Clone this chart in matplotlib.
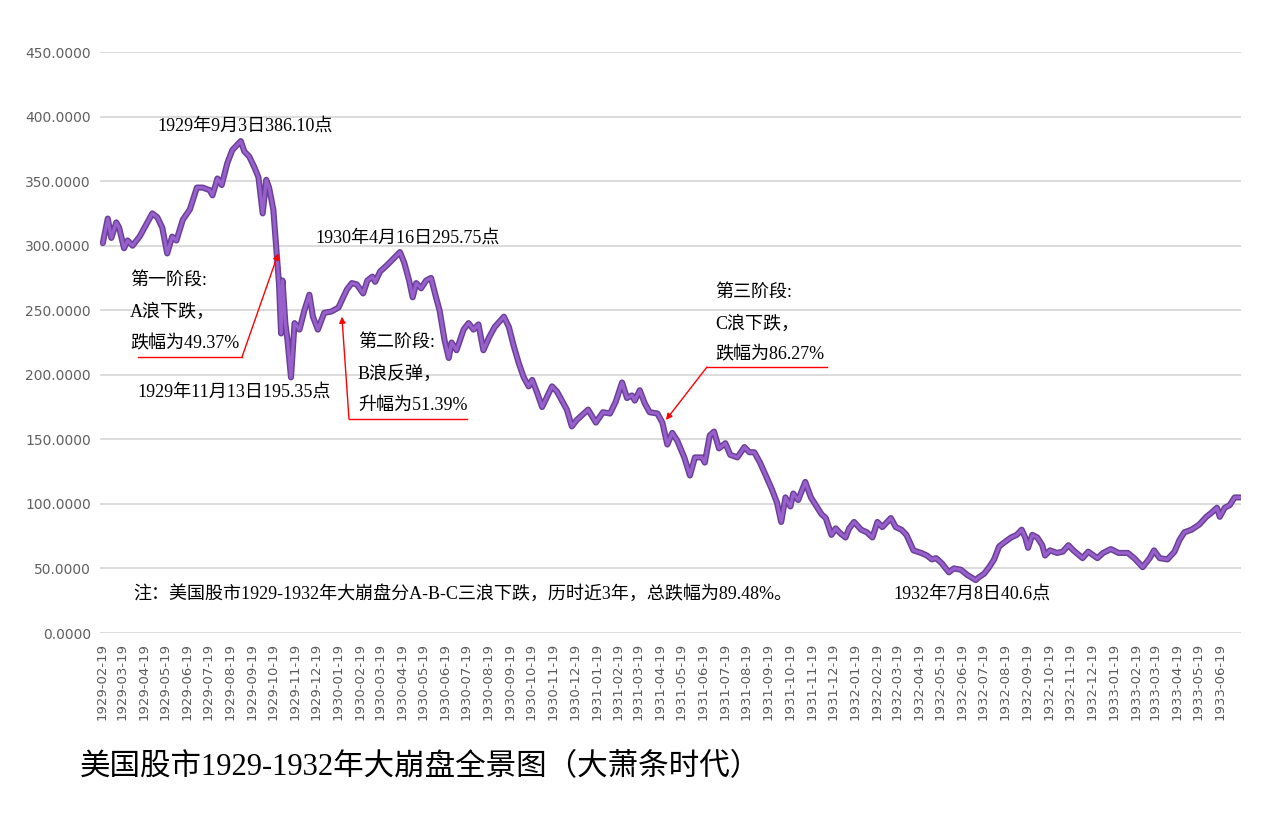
import pandas as pd
import matplotlib
matplotlib.use('Agg')
import matplotlib.pyplot as plt
import matplotlib.dates as mdates
from matplotlib.lines import Line2D

# Dow Jones daily close (roughly weekly)
dates_1929 = ['1929-02-20', '1929-02-27', '1929-03-04', '1929-03-11', '1929-03-15', '1929-03-22', '1929-03-27',
              '1929-04-03', '1929-04-13', '1929-04-20', '1929-05-01', '1929-05-08', '1929-05-15', '1929-05-22',
              '1929-05-29', '1929-06-04', '1929-06-13', '1929-06-23', '1929-07-03', '1929-07-11', '1929-07-21',
              '1929-07-25', '1929-08-01', '1929-08-07', '1929-08-15', '1929-08-22', '1929-09-03', '1929-09-08',
              '1929-09-15', '1929-09-22', '1929-09-28', '1929-10-04', '1929-10-09', '1929-10-13', '1929-10-19',
              '1929-10-23', '1929-10-27', '1929-10-30', '1929-11-01', '1929-11-05', '1929-11-08', '1929-11-13',
              '1929-11-18', '1929-11-25', '1929-12-02', '1929-12-09', '1929-12-14', '1929-12-21', '1929-12-30']
close_1929 = [302, 321, 306, 318, 314, 298, 304, 300, 307, 314, 325, 322, 314, 294, 307, 304, 320, 328, 345, 345,
              343, 339, 352, 347, 364, 374, 381, 373, 369, 361, 353, 325, 351, 345, 328, 299, 271, 232, 273, 240,
              227, 198, 240, 235, 250, 262, 245, 235, 248]

dates_1930 = ['1930-01-09', '1930-01-19', '1930-01-31', '1930-02-07', '1930-02-14', '1930-02-23', '1930-03-01',
              '1930-03-08', '1930-03-12', '1930-03-19', '1930-03-29', '1930-04-07', '1930-04-16', '1930-04-22',
              '1930-04-29', '1930-05-04', '1930-05-09', '1930-05-16', '1930-05-23', '1930-05-30', '1930-06-06',
              '1930-06-11', '1930-06-18', '1930-06-24', '1930-06-28', '1930-07-05', '1930-07-15', '1930-07-22',
              '1930-07-29', '1930-08-05', '1930-08-12', '1930-08-20', '1930-08-28', '1930-09-10', '1930-09-17',
              '1930-09-24', '1930-10-01', '1930-10-08', '1930-10-15', '1930-10-20', '1930-10-27', '1930-11-03',
              '1930-11-10', '1930-11-17', '1930-11-24', '1930-12-01', '1930-12-08', '1930-12-15', '1930-12-22',
              '1930-12-26']
close_1930 = [249, 252, 266, 271, 270, 263, 273, 276, 272, 280, 285, 290, 295, 287, 273, 260, 271, 267, 273, 275,
              260, 250, 227, 213, 225, 219, 235, 240, 235, 239, 219, 229, 237, 245, 237, 222, 209, 198, 191, 196,
              186, 175, 183, 191, 187, 180, 173, 160, 165, 167]

dates_1931 = ['1931-01-07', '1931-01-18', '1931-01-28', '1931-02-07', '1931-02-15', '1931-02-24', '1931-03-03',
              '1931-03-10', '1931-03-14', '1931-03-21', '1931-03-28', '1931-04-04', '1931-04-15', '1931-04-22',
              '1931-04-29', '1931-05-06', '1931-05-13', '1931-05-23', '1931-05-31', '1931-06-07', '1931-06-17',
              '1931-06-21', '1931-06-28', '1931-07-04', '1931-07-11', '1931-07-20', '1931-07-27', '1931-08-06',
              '1931-08-16', '1931-08-23', '1931-08-30', '1931-09-07', '1931-09-16', '1931-09-24', '1931-10-01',
              '1931-10-07', '1931-10-13', '1931-10-20', '1931-10-24', '1931-10-31', '1931-11-10', '1931-11-18',
              '1931-11-26', '1931-12-03', '1931-12-09', '1931-12-17', '1931-12-23', '1931-12-30']
close_1931 = [173, 163, 171, 170, 179, 194, 182, 184, 180, 188, 178, 171, 170, 163, 146, 155, 149, 136, 122, 136,
              136, 132, 153, 156, 143, 147, 138, 136, 144, 140, 140, 132, 121, 111, 101, 86, 105, 98, 108, 103,
              117, 105, 98, 92, 89, 76, 81, 77]

dates_1932 = ['1932-01-06', '1932-01-11', '1932-01-18', '1932-01-28', '1932-02-05', '1932-02-13', '1932-02-20',
              '1932-02-27', '1932-03-03', '1932-03-10', '1932-03-17', '1932-03-25', '1932-04-01', '1932-04-11',
              '1932-04-22', '1932-04-30', '1932-05-07', '1932-05-13', '1932-05-21', '1932-05-31', '1932-06-07',
              '1932-06-17', '1932-06-26', '1932-07-08', '1932-07-12', '1932-07-20', '1932-07-27', '1932-08-03',
              '1932-08-10', '1932-08-17', '1932-08-27', '1932-09-04', '1932-09-11', '1932-09-16', '1932-09-20',
              '1932-09-26', '1932-10-03', '1932-10-10', '1932-10-14', '1932-10-21', '1932-10-31', '1932-11-08',
              '1932-11-16', '1932-11-23', '1932-12-06', '1932-12-14', '1932-12-27']
close_1932 = [74, 81, 86, 80, 78, 74, 86, 82, 85, 89, 82, 80, 76, 64, 62, 60, 57, 58, 54, 47, 50, 49, 45, 41, 43,
              46, 51, 57, 67, 70, 74, 76, 80, 74, 66, 76, 74, 68, 60, 64, 62, 63, 68, 64, 58, 63, 58]

dates_1933 = ['1933-01-04', '1933-01-15', '1933-01-26', '1933-02-08', '1933-02-17', '1933-03-01', '1933-03-11',
              '1933-03-17', '1933-03-25', '1933-04-05', '1933-04-15', '1933-04-22', '1933-04-29', '1933-05-09',
              '1933-05-20', '1933-05-30', '1933-06-06', '1933-06-14', '1933-06-18', '1933-06-25', '1933-07-02',
              '1933-07-09', '1933-07-17']
close_1933 = [62, 65, 62, 62, 58, 51, 58, 64, 58, 57, 63, 72, 78, 80, 84, 90, 93, 97, 90, 97, 99, 105, 105]

y_ticks = [0, 50, 100, 150, 200, 250, 300, 350, 400, 450]

# where the red arrows point (date, index level)
arrow_a = ('1929-10-26', 294)
arrow_b = ('1930-01-24', 245)
arrow_c = ('1931-04-27', 165)

title = '美国股市1929-1932年大崩盘全景图（大萧条时代）'
note = '注：美国股市1929-1932年大崩盘分A-B-C三浪下跌，历时近3年，总跌幅为89.48%。'

dates = pd.to_datetime(dates_1929 + dates_1930 + dates_1931 + dates_1932 + dates_1933)
close = close_1929 + close_1930 + close_1931 + close_1932 + close_1933

W, H = 1272, 822
fig = plt.figure(figsize=(W / 100, H / 100), dpi=100)
fig.patch.set_facecolor('white')
ax = fig.add_axes([100 / W, 1 - 633 / H, 1141 / W, 581 / H])

ax.plot(dates, close, color='#6a4096', lw=4.4, solid_joinstyle='round', solid_capstyle='round', zorder=3)
ax.plot(dates, close, color='#9760cc', lw=2.3, solid_joinstyle='round', zorder=4)

ax.set_ylim(0, 450)
ax.set_xlim(pd.Timestamp('1929-02-16'), pd.Timestamp('1933-07-18'))
ax.set_yticks(y_ticks)
ax.yaxis.set_major_formatter(plt.FuncFormatter(lambda v, p: f'{v:.4f}'))
ax.xaxis.set_major_locator(mdates.MonthLocator(bymonthday=19))
ax.xaxis.set_major_formatter(mdates.DateFormatter('%Y-%m-%d'))
ax.tick_params(axis='x', length=0, pad=7, labelsize=9.5, labelcolor='#5a5a5a', rotation=90)
ax.tick_params(axis='y', length=0, pad=6.5, labelsize=10, labelcolor='#606060')
ax.grid(axis='y', color='#dcdcdc', lw=1.4, zorder=0)
ax.grid(axis='x', visible=False)
for s in ax.spines.values():
    s.set_visible(False)

cjk = ['Liberation Serif', 'Noto Sans CJK SC']


def txt(x, y, s, size=13):
    fig.text(x / W, 1 - y / H, s, fontsize=size, family=cjk, ha='left', va='center', color='black')


txt(157, 126, '1929年9月3日386.10点')
txt(315, 238, '1930年4月16日295.75点')
txt(137, 392, '1929年11月13日195.35点')
txt(893, 594, '1932年7月8日40.6点')

txt(130, 280, '第一阶段:')
txt(130, 312, 'A浪下跌，')
txt(130, 344, '跌幅为49.37%')
txt(358, 342, '第二阶段:')
txt(358, 374, 'B浪反弹，')
txt(358, 405, '升幅为51.39%')
txt(715, 292, '第三阶段:')
txt(715, 324, 'C浪下跌，')
txt(715, 355, '跌幅为86.27%')

txt(133, 594, note, size=13)
txt(80, 768, title, size=22)


def pointer(x1, x2, y, corner, target):
    fig.add_artist(Line2D([x1 / W, x2 / W], [1 - y / H, 1 - y / H], color='red', lw=1))
    ax.annotate('', xy=(pd.Timestamp(target[0]), target[1]), xycoords='data',
                xytext=(corner, H - y), textcoords='figure pixels',
                arrowprops=dict(arrowstyle='-|>', color='red', lw=1, mutation_scale=9,
                                shrinkA=0, shrinkB=0), zorder=5)


pointer(138, 242, 357, 242, arrow_a)
pointer(349, 467, 419, 349, arrow_b)
pointer(707, 827, 367, 707, arrow_c)

fig.savefig('out.png', dpi=100)
